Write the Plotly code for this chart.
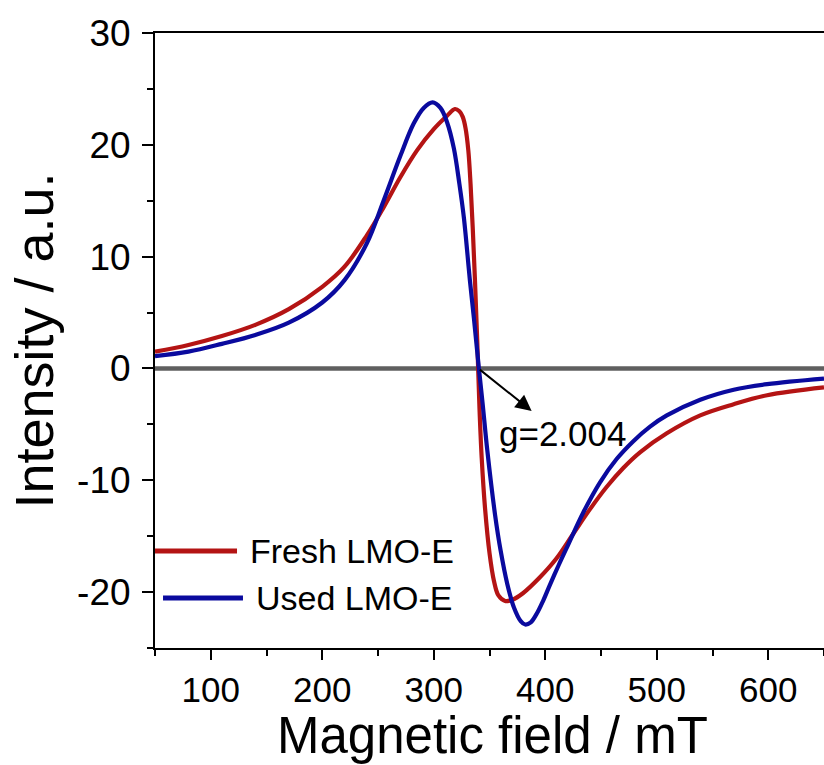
import plotly.graph_objects as go

# EPR spectra of fresh and used LMO-E
field_fresh = [50, 80, 110, 140, 170, 200, 220, 240, 255, 270, 285, 300, 312, 319, 323,
               326, 328.5, 331, 333, 335, 337, 339, 341, 343, 346, 350, 354, 358, 364,
               370, 380, 395, 410, 425, 440, 455, 470, 485, 509, 539, 569, 599, 650]
int_fresh = [1.5, 2.1, 2.9, 3.9, 5.3, 7.3, 9.1, 11.9, 14.4, 17.1, 19.5, 21.4, 22.6, 23.2, 23.0,
             22.5, 21.5, 19.5, 16.5, 12.5, 7.8, 2.5, -3.5, -8.0, -12.5, -16.5, -19.0, -20.3, -20.8,
             -20.7, -20.1, -18.7, -17.0, -14.8, -12.6, -10.6, -8.9, -7.5, -5.8, -4.2, -3.2, -2.4, -1.7]

field_used = [50, 80, 110, 140, 170, 200, 220, 240, 255, 270, 282, 291, 299, 306, 312,
              318, 323, 327, 332.5, 336, 340.5, 344, 348, 355, 360, 366, 372, 378, 382,
              387, 392, 398, 404, 412, 419, 434, 449, 464, 479, 494, 509, 539, 569, 599, 650]
int_used = [1.1, 1.5, 2.2, 3.0, 4.1, 5.9, 7.9, 11.2, 15.0, 19.0, 21.9, 23.3, 23.8, 23.3, 22.0,
            19.7, 16.5, 13.5, 7.8, 4.5, 0.0, -3.3, -7.3, -13.1, -16.3, -19.3, -21.4, -22.6, -22.9,
            -22.7, -22.0, -20.8, -19.4, -17.6, -16.1, -12.9, -10.2, -8.1, -6.5, -5.2, -4.2, -2.8, -1.9, -1.4, -0.9]

baseline_x = [50, 650]
baseline_y = [0, 0]

series_names = ["Fresh LMO-E", "Used LMO-E"]
series_colors = ["#B41414", "#0A0A9E"]

g_label = "g=2.004"
g_point = (340, 0)

x_title = "Magnetic field / mT"
y_title = "Intensity / a.u."
x_ticks = [100, 200, 300, 400, 500, 600]
y_ticks = [-20, -10, 0, 10, 20, 30]
y_tick_text = ["-20", "-10", "0", "10", "20", "30"]

FONT = "Arial, Liberation Sans, sans-serif"

fig = go.Figure()

fig.add_trace(go.Scatter(x=baseline_x, y=baseline_y, mode="lines",
                         line=dict(color="#5f5f5f", width=4.5),
                         showlegend=False, hoverinfo="skip"))

for xs, ys, name, col in [(field_fresh, int_fresh, series_names[0], series_colors[0]),
                          (field_used, int_used, series_names[1], series_colors[1])]:
    fig.add_trace(go.Scatter(x=xs, y=ys, mode="lines", name=name,
                             line=dict(color=col, width=4.2, shape="spline", smoothing=1.0),
                             showlegend=False))

# arrow from the zero crossing to the g-value label
fig.add_annotation(x=387.8, y=-3.8, ax=g_point[0], ay=g_point[1],
                   xref="x", yref="y", axref="x", ayref="y",
                   text="", showarrow=True, arrowhead=2, arrowsize=1.6,
                   arrowwidth=2, arrowcolor="black")
fig.add_annotation(x=356.7, y=-5.8, xref="x", yref="y", text=g_label,
                   showarrow=False, xanchor="left", yanchor="middle",
                   font=dict(family=FONT, size=35, color="black"))

# legend drawn as line keys with labels
legend_rows = [(0.0, 0.1226, 0.1577, 0.139), (0.012, 0.1315, 0.0813, 0.148)]
for (x0, x1, yy, xt), name, col in zip(legend_rows, series_names, series_colors):
    fig.add_shape(type="line", xref="paper", yref="paper", x0=x0, x1=x1, y0=yy, y1=yy,
                  line=dict(color=col, width=5))
    fig.add_annotation(x=xt, y=yy, xref="paper", yref="paper", text=name,
                       showarrow=False, xanchor="left", yanchor="middle",
                       font=dict(family=FONT, size=34, color="black"))

# x-axis title placed along the bottom edge
fig.add_annotation(x=0.505, y=-0.19, xref="paper", yref="paper", text=x_title,
                   showarrow=False, xanchor="center", yanchor="bottom", borderpad=0,
                   font=dict(family=FONT, size=51, color="black"))

fig.update_xaxes(range=[50, 650], tickvals=x_ticks, ticks="outside", ticklen=10,
                 tickwidth=2, tickcolor="black", showline=True, linecolor="black",
                 linewidth=2, mirror=True, showgrid=False, zeroline=False,
                 tickfont=dict(family=FONT, size=35, color="black"), ticklabelstandoff=0,
                 minor=dict(dtick=50, tick0=50, ticks="outside", ticklen=6,
                            tickwidth=2, tickcolor="black"))
fig.update_yaxes(range=[-25, 30], tickvals=y_ticks, ticktext=y_tick_text, ticks="outside",
                 ticklen=11, tickwidth=2, tickcolor="black", showline=True, linecolor="black",
                 linewidth=2, mirror=False, showgrid=False, zeroline=False,
                 tickfont=dict(family=FONT, size=37, color="black"), ticklabelstandoff=4,
                 minor=dict(dtick=5, tick0=-25, ticks="outside", ticklen=6,
                            tickwidth=2, tickcolor="black"),
                 title=dict(text=y_title, standoff=6,
                            font=dict(family=FONT, size=54, color="black")))

fig.update_layout(width=824, height=765, plot_bgcolor="white", paper_bgcolor="white",
                  margin=dict(l=155, r=0, t=33, b=117))

fig.write_html("out.html")
